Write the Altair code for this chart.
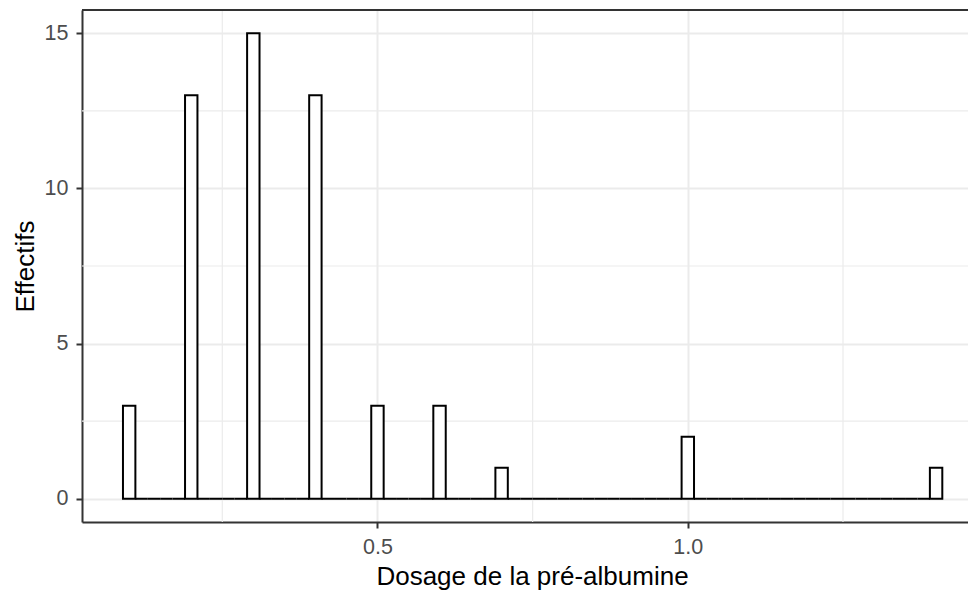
import altair as alt
import pandas as pd

# ---- data ----
dosage_values = [0.1, 0.2, 0.3, 0.4, 0.5, 0.6, 0.7, 1.0, 1.4]
effectifs = [3, 13, 15, 13, 3, 3, 1, 2, 1]
x_ticks = [0.5, 1.0]
y_ticks = [0, 5, 10, 15]
x_minor = [0.25, 0.75, 1.25]
y_minor = [2.5, 7.5, 12.5]
binwidth = 0.02

# ---- histogram table (all bins, including empty ones) ----
vmin = min(dosage_values)
n_bins = int(round((max(dosage_values) - vmin) / binwidth)) + 1
counts = [0] * n_bins
for v, c in zip(dosage_values, effectifs):
    counts[int(round((v - vmin) / binwidth))] += c
centers = [vmin + k * binwidth for k in range(n_bins)]
hist = pd.DataFrame({
    "start": [c - binwidth / 2 for c in centers],
    "end": [c + binwidth / 2 for c in centers],
    "count": counts,
    "base": [0] * n_bins,
})
minor_x = pd.DataFrame({"v": x_minor})
minor_y = pd.DataFrame({"v": y_minor})

W, H = 886, 512
FONT = "Liberation Sans"

xscale = alt.Scale(domain=[0.024, 1.4514], nice=False, zero=False)
yscale = alt.Scale(domain=[-0.75, 15.75], nice=False, zero=False)

x_axis = alt.Axis(
    values=x_ticks, format=".1f", title="Dosage de la pré-albumine",
    grid=True, gridColor="#EBEBEB", gridWidth=2,
    domainColor="#333333", domainWidth=2,
    tickColor="#333333", tickWidth=2, tickSize=6,
    labelFont=FONT, labelFontSize=21.5, labelColor="#4D4D4D",
    labelBaseline="alphabetic", labelPadding=25, labelFlush=False, labelOverlap=False,
    titleFont=FONT, titleFontSize=26, titleFontWeight="normal", titleColor="black",
    titleX=450, titleY=62, titleBaseline="alphabetic", titleAlign="center",
)
y_axis = alt.Axis(
    values=y_ticks, format="d", title="Effectifs",
    grid=True, gridColor="#EBEBEB", gridWidth=2,
    domainColor="#333333", domainWidth=2,
    tickColor="#333333", tickWidth=2, tickSize=6,
    labelFont=FONT, labelFontSize=21.5, labelColor="#4D4D4D",
    labelPadding=8, labelFlush=False, labelOverlap=False,
    titleFont=FONT, titleFontSize=26, titleFontWeight="normal", titleColor="black",
    titleX=-49, titleY=H / 2, titleAngle=270, titleBaseline="alphabetic", titleAlign="center",
)

minor_x_layer = alt.Chart(minor_x).mark_rule(color="#EBEBEB", strokeWidth=1.2).encode(
    x=alt.X("v:Q", scale=xscale, axis=x_axis)
)
minor_y_layer = alt.Chart(minor_y).mark_rule(color="#EBEBEB", strokeWidth=1.2).encode(
    y=alt.Y("v:Q", scale=yscale, axis=y_axis)
)
bars = alt.Chart(hist).mark_rect(fill="white", stroke="black", strokeWidth=2).encode(
    x=alt.X("start:Q", scale=xscale, axis=x_axis),
    x2="end:Q",
    y=alt.Y("count:Q", scale=yscale, axis=y_axis),
    y2="base:Q",
)
top_border = alt.Chart(hist).mark_rule(color="#333333", strokeWidth=2).encode(
    x=alt.value(0), x2=alt.value(W), y=alt.value(0)
)

chart = alt.layer(minor_x_layer, minor_y_layer, bars, top_border).properties(
    width=W, height=H, autosize="none",
    padding={"left": 74, "top": 2, "right": 0, "bottom": 77},
    background="white",
).configure_view(stroke=None)

chart.save("out.html", embed_options={"renderer": "svg", "actions": False})
